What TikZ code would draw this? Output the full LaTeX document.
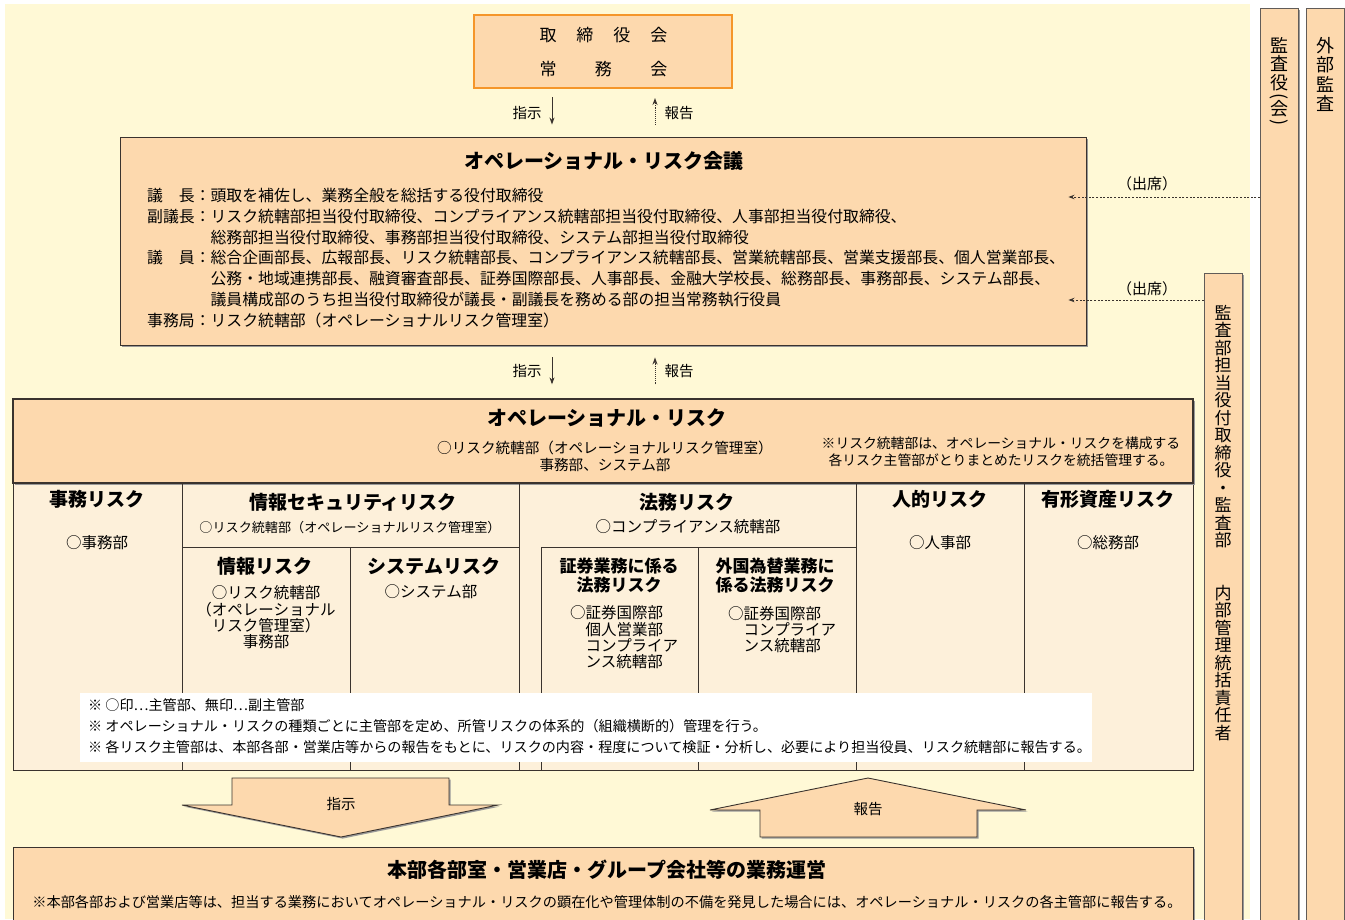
\documentclass[tikz,border=0pt]{standalone}
\usepackage{fontspec}
\setmainfont{Noto Sans CJK JP}
\usetikzlibrary{arrows.meta,shadows}
\definecolor{paper}{HTML}{FFF9D6}
\definecolor{peach}{HTML}{FDD9AE}
\definecolor{cream}{HTML}{FDF0DA}
\definecolor{boardline}{HTML}{F5962A}
\definecolor{ink}{HTML}{3A332E}

\begin{document}
\begin{tikzpicture}[x=1pt,y=-1pt]
\tikzstyle{every node}+=[inner sep=0pt]
\tikzstyle{shade}=[drop shadow={shadow xshift=1.6pt,shadow yshift=-1.6pt,fill=black!40,opacity=1}]
\tikzstyle{box}=[draw=ink, line width=0.9pt, fill=peach, shade]
\tikzstyle{bar}=[draw=ink!80, line width=0.9pt, fill=peach, shade]
\tikzstyle{cell}=[draw=ink, line width=0.9pt, fill=cream]
\tikzstyle{grid}=[draw=ink, line width=0.9pt]
\tikzstyle{body}=[font=\fontsize{15.85}{20.7}\selectfont]
\tikzstyle{small}=[font=\fontsize{14.5}{17}\selectfont]
\tikzstyle{title}=[font=\fontsize{20}{24}\selectfont\bfseries]
\tikzstyle{head}=[font=\fontsize{19}{22}\selectfont\bfseries]
\tikzstyle{subhead}=[font=\fontsize{17}{19}\selectfont\bfseries, align=center]
\tikzstyle{dept}=[font=\fontsize{15.5}{16.3}\selectfont]
\tikzstyle{note}=[font=\fontsize{14.1}{21}\selectfont, align=left, anchor=west]
\tikzstyle{vtext}=[align=center, anchor=north]
\tikzstyle{order}=[-{Stealth[length=7pt,width=5pt]}, line width=0.9pt, ink]
\tikzstyle{report}=[order, densely dotted]
\tikzstyle{attend}=[-{Stealth[length=6pt,width=4.5pt]}, line width=0.9pt, ink, dash pattern=on 2pt off 1.6pt]
\tikzstyle{bigarrow}=[draw=ink, line width=0.9pt, fill=peach, shade]
\newcommand{\vparen}[1]{\rotatebox[origin=c]{-90}{#1}}

\useasboundingbox (0,0) rectangle (1345,919);
\fill [paper] (5,4) rectangle (1250,919);

\node [bar, minimum width=38pt, minimum height=925pt, anchor=north west] (kansayaku) at (1260,8) {};
\node [bar, minimum width=38pt, minimum height=925pt, anchor=north west] (gaibu) at (1306,8) {};
\node [bar, minimum width=38pt, minimum height=660pt, anchor=north west] (kansabu) at (1204,273) {};
\node [vtext, font=\fontsize{18}{18.5}\selectfont] (kansayakutext) at (1279,37) {監\\査\\役\\[-6pt]\vparen{(}\\[-5pt]会\\[-6pt]\vparen{)}};
\node [vtext, font=\fontsize{18}{19.5}\selectfont] (gaibutext) at (1325,37) {外\\部\\監\\査};
\node [vtext, font=\fontsize{17}{17.5}\selectfont] (kansabutext) at (1223,305) {監\\査\\部\\担\\当\\役\\付\\取\\締\\役\\・\\監\\査\\部\\[35pt]内\\部\\管\\理\\統\\括\\責\\任\\者};

\node [draw=boardline, line width=2pt, fill=peach, minimum width=258pt, minimum height=73pt] (board) at (603,51.5) {};
\node [font=\fontsize{17}{20}\selectfont] (boardA) at (603.5,35) {\makebox[37pt]{取}\makebox[37pt]{締}\makebox[37pt]{役}\makebox[37pt]{会}};
\node [font=\fontsize{17}{20}\selectfont] (boardB) at (603.5,69) {\makebox[55.5pt]{常}\makebox[55.5pt]{務}\makebox[55.5pt]{会}};

\node [box, minimum width=966pt, minimum height=208pt] (meeting) at (603,241) {};
\node [title] (meetingtitle) at (604,161) {オペレーショナル・リスク会議};
\node [body, align=left, anchor=west] (members) at (147,258) {議　長：頭取を補佐し、業務全般を総括する役付取締役\\副議長：リスク統轄部担当役付取締役、コンプライアンス統轄部担当役付取締役、人事部担当役付取締役、\\　　　　総務部担当役付取締役、事務部担当役付取締役、システム部担当役付取締役\\議　員：総合企画部長、広報部長、リスク統轄部長、コンプライアンス統轄部長、営業統轄部長、営業支援部長、個人営業部長、\\　　　　公務・地域連携部長、融資審査部長、証券国際部長、人事部長、金融大学校長、総務部長、事務部長、システム部長、\\　　　　議員構成部のうち担当役付取締役が議長・副議長を務める部の担当常務執行役員\\事務局：リスク統轄部（オペレーショナルリスク管理室）};

\coordinate (orderx) at (552,0);
\coordinate (reportx) at (655,0);
\draw [order, shorten <=8pt, shorten >=12pt] (board.south -| orderx) -- (meeting.north -| orderx);
\draw [report, shorten <=12pt, shorten >=9pt] (meeting.north -| reportx) -- (board.south -| reportx);
\node [small] (order1) at (527,113) {指示};
\node [small] (report1) at (679,113) {報告};

\coordinate (attendA) at (0,197);
\coordinate (attendB) at (0,300);
\draw [attend, shorten >=-18pt] (kansayaku.west |- attendA) -- (meeting.east |- attendA);
\draw [attend, shorten >=-18pt] (kansabu.west |- attendB) -- (meeting.east |- attendB);
\node [font=\fontsize{15}{18}\selectfont] (attendtext1) at (1147,184) {（出席）};
\node [font=\fontsize{15}{18}\selectfont] (attendtext2) at (1147,289) {（出席）};

\node [cell, minimum width=1180pt, minimum height=287pt, anchor=north] (riskarea) at (603,483) {};
\node [box, line width=1.3pt, minimum width=1180pt, minimum height=84pt] (oprisk) at (603,441) {};

\draw [order, shorten <=12pt, shorten >=14pt] (meeting.south -| orderx) -- (oprisk.north -| orderx);
\draw [report, shorten <=14pt, shorten >=12pt] (oprisk.north -| reportx) -- (meeting.south -| reportx);
\node [small] (order2) at (527,371) {指示};
\node [small] (report2) at (679,371) {報告};

\node [title] (opristitle) at (607,418) {オペレーショナル・リスク};
\node [font=\fontsize{14.6}{17}\selectfont, align=center] (opriskdept) at (605,456) {○リスク統轄部（オペレーショナルリスク管理室）\\事務部、システム部};
\node [font=\fontsize{13.8}{17}\selectfont, align=center] (opriscnote) at (1001,451.5) {※リスク統轄部は、オペレーショナル・リスクを構成する\\各リスク主管部がとりまとめたリスクを統括管理する。};

\draw [grid] (182,483) -- (182,770);
\draw [grid] (519,483) -- (519,770);
\draw [grid] (856,483) -- (856,770);
\draw [grid] (1024,483) -- (1024,770);
\draw [grid] (182,547) -- (519,547);
\draw [grid] (350,547) -- (350,770);
\draw [grid] (541,770) -- (541,547) -- (856,547);
\draw [grid] (698,547) -- (698,770);

\node [head] (jimu) at (97,499) {事務リスク};
\node [dept] (jimudept) at (97,543) {○事務部};
\node [head] (infosec) at (353,502) {情報セキュリティリスク};
\node [font=\fontsize{13.1}{15}\selectfont] (infosecdept) at (350,528) {○リスク統轄部（オペレーショナルリスク管理室）};
\node [head] (joho) at (265,566) {情報リスク};
\node [dept, align=center] (johodept) at (266,617.5) {○リスク統轄部\\（オペレーショナル\\リスク管理室）\\事務部};
\node [head] (system) at (434,566) {システムリスク};
\node [dept] (systemdept) at (431,592) {○システム部};
\node [head] (houmu) at (687,502) {法務リスク};
\node [dept] (houmudept) at (688,527) {○コンプライアンス統轄部};
\node [subhead] (shoken) at (619,575.5) {証券業務に係る\\法務リスク};
\node [dept, align=left, anchor=west] (shokendept) at (570,637.5) {○証券国際部\\　個人営業部\\　コンプライア\\　ンス統轄部};
\node [subhead] (gaikoku) at (775,575.5) {外国為替業務に\\係る法務リスク};
\node [dept, align=left, anchor=west] (gaikokudept) at (728,629.5) {○証券国際部\\　コンプライア\\　ンス統轄部};
\node [head] (jinteki) at (940,499) {人的リスク};
\node [dept] (jintekidept) at (940,543) {○人事部};
\node [head] (yukei) at (1108,499) {有形資産リスク};
\node [dept] (yukeidept) at (1108,543) {○総務部};

\node [fill=white, minimum width=1012pt, minimum height=69pt, anchor=north west] (notebox) at (80,693) {};
\node [note] (notes) at (88,726) {※ ○印…主管部、無印…副主管部\\※ オペレーショナル・リスクの種類ごとに主管部を定め、所管リスクの体系的（組織横断的）管理を行う。\\※ 各リスク主管部は、本部各部・営業店等からの報告をもとに、リスクの内容・程度について検証・分析し、必要により担当役員、リスク統轄部に報告する。};

\filldraw [bigarrow] (232,778) -- (449,778) -- (449,805) -- (498,805) -- (341,837) -- (182,805) -- (232,805) -- cycle;
\node [small] (order3) at (341,804) {指示};
\filldraw [bigarrow] (868,778) -- (1026,810) -- (977,810) -- (977,837) -- (760,837) -- (760,810) -- (710,810) -- cycle;
\node [small] (report3) at (868,809) {報告};

\node [box, minimum width=1180pt, minimum height=80pt, anchor=north] (ops) at (603,847) {};
\node [title] (opstitle) at (607,870) {本部各部室・営業店・グループ会社等の業務運営};
\node [font=\fontsize{14.2}{17}\selectfont] (opsnote) at (607,902) {※本部各部および営業店等は、担当する業務においてオペレーショナル・リスクの顕在化や管理体制の不備を発見した場合には、オペレーショナル・リスクの各主管部に報告する。};
\end{tikzpicture}
\end{document}
